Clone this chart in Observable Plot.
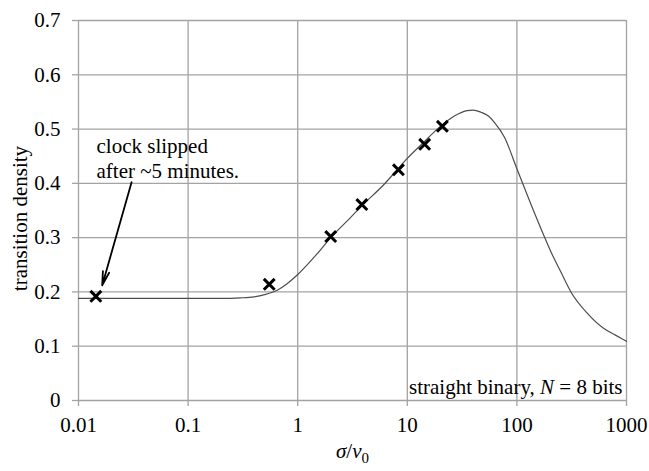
<!DOCTYPE html>
<html>
<head>
<meta charset="utf-8">
<script src="https://cdn.jsdelivr.net/npm/d3@7"></script>
<script src="https://cdn.jsdelivr.net/npm/@observablehq/plot@0.6"></script>
<style>
  html, body { margin: 0; padding: 0; background: #fff; }
</style>
</head>
<body>
<div id="chart"></div>
<script>
// Axis ticks and labels
const xTicks = [0.01, 0.1, 1, 10, 100, 1000];
const xTickLabels = ["0.01", "0.1", "1", "10", "100", "1000"];
const yTicks = [0, 0.1, 0.2, 0.3, 0.4, 0.5, 0.6, 0.7];
const yTickLabels = ["0", "0.1", "0.2", "0.3", "0.4", "0.5", "0.6", "0.7"];

// Model curve: transition density vs sigma/v0
const modelX = [0.01, 0.1, 0.2, 0.3, 0.4, 0.5, 0.65, 0.8, 1, 1.5, 2, 3, 4, 6, 8, 10, 14, 20, 25, 30, 35, 40, 47, 55, 62, 77, 100, 134, 184, 212, 250, 311, 442, 627, 800, 1000];
const modelY = [0.188, 0.188, 0.188, 0.189, 0.191, 0.195, 0.203, 0.215, 0.232, 0.270, 0.300, 0.336, 0.362, 0.396, 0.424, 0.446, 0.475, 0.505, 0.520, 0.529, 0.534, 0.535, 0.531, 0.524, 0.513, 0.485, 0.427, 0.362, 0.295, 0.267, 0.238, 0.200, 0.160, 0.132, 0.120, 0.109];

// Measured points
const measX = [0.0144, 0.55, 2, 3.85, 8.3, 14.4, 20.9];
const measY = [0.192, 0.214, 0.302, 0.361, 0.425, 0.472, 0.505];

// Annotations
const noteText = ["clock slipped\nafter ~5 minutes."];
const noteX = [0.0146];
const noteY = [0.488];
const arrowFrom = [0.0305, 0.402];
const arrowTo = [0.01645, 0.212];
const cornerText = ["straight binary, N = 8 bits"];
const cornerX = [1000];
const cornerY = [0.025];
const xLabel = ["σ/v0"];
const yLabel = ["transition density"];

const model = modelX.map((x, i) => ({x, y: modelY[i]}));
const meas = measX.map((x, i) => ({x, y: measY[i]}));
const arrows = [{x1: arrowFrom[0], y1: arrowFrom[1], x2: arrowTo[0], y2: arrowTo[1]}];

const serif = "Liberation Serif";
const gridColor = "#a3a3a3";
const fmtX = d => xTickLabels[xTicks.indexOf(d)];
const fmtY = d => yTickLabels[yTicks.indexOf(d)];
const textStyle = {fontFamily: serif, fontSize: 21, fill: "black"};

const chart = Plot.plot({
  width: 649,
  height: 471,
  marginLeft: 78,
  marginRight: 23,
  marginTop: 20,
  marginBottom: 71,
  style: "font-family: 'Liberation Serif', serif; font-size: 21px; background: white; color: black;",
  x: {type: "log", domain: [0.01, 1000]},
  y: {type: "linear", domain: [0, 0.7]},
  marks: [
    Plot.gridX(xTicks, {stroke: gridColor, strokeOpacity: 1, strokeWidth: 1.3}),
    Plot.gridY(yTicks, {stroke: gridColor, strokeOpacity: 1, strokeWidth: 1.3}),
    Plot.axisX(xTicks, {tickFormat: fmtX, tickSize: 6, tickPadding: 11, stroke: gridColor, strokeWidth: 1.3, fontFamily: serif, fontSize: 21, label: null}),
    Plot.axisY(yTicks, {tickFormat: fmtY, tickSize: 6, tickPadding: 12, stroke: gridColor, strokeWidth: 1.3, fontFamily: serif, fontSize: 21, label: null}),
    Plot.line(model, {x: "x", y: "y", stroke: "#4d4d4d", strokeWidth: 1.2, curve: "monotone-x"}),
    Plot.dot(meas, {x: "x", y: "y", symbol: "times", r: 5, stroke: "black", strokeWidth: 3}),
    Plot.text(noteText, {x: noteX, y: noteY, text: d => d, textAnchor: "start", lineAnchor: "top", lineHeight: 1.19, ...textStyle}),
    Plot.arrow(arrows, {x1: "x1", y1: "y1", x2: "x2", y2: "y2", stroke: "black", strokeWidth: 1.8, headLength: 12, headAngle: 26}),
    Plot.text(cornerText, {x: cornerX, y: cornerY, text: d => d, textAnchor: "end", lineAnchor: "middle", dx: -4, ...textStyle}),
    Plot.text(xLabel, {frameAnchor: "bottom", text: d => d, textAnchor: "middle", dy: 57, ...textStyle}),
    Plot.text(yLabel, {frameAnchor: "left", text: d => d, textAnchor: "middle", rotate: -90, dx: -58, dy: 8, ...textStyle})
  ]
});

// Rich text: italic symbols and subscript
d3.select(chart).selectAll("text").each(function () {
  const t = this.textContent;
  const sel = d3.select(this);
  if (t === cornerText[0]) {
    sel.text(null);
    sel.append("tspan").text("straight binary, ");
    sel.append("tspan").attr("font-style", "italic").text("N");
    sel.append("tspan").text(" = 8 bits");
  } else if (t === xLabel[0]) {
    sel.text(null);
    sel.append("tspan").attr("font-style", "italic").text("σ");
    sel.append("tspan").text("/");
    sel.append("tspan").attr("font-style", "italic").text("v");
    sel.append("tspan").attr("font-size", "15px").attr("dy", "5").text("0");
  }
});

document.getElementById("chart").appendChild(chart);
</script>
</body>
</html>
